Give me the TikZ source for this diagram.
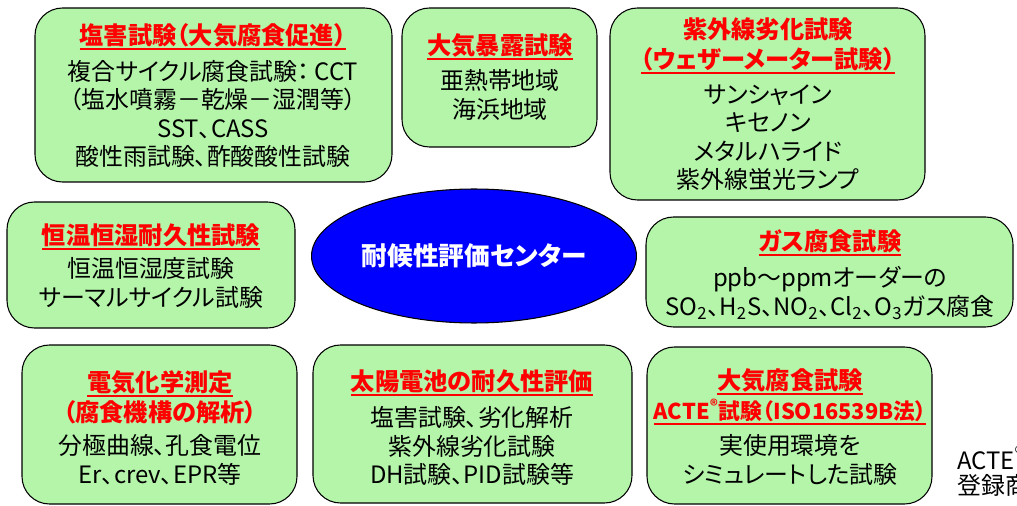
\documentclass[tikz,border=0pt]{standalone}
\usepackage{fontspec}
\setmainfont{Noto Sans CJK JP}[RawFeature=+palt]
\usetikzlibrary{fit,shapes.geometric}
\definecolor{boxgreen}{RGB}{180,245,170}
\definecolor{centerblue}{RGB}{0,0,255}
\newcommand{\redline}[1]{\setbox0\hbox{#1}\rlap{\color{red}\rule[-3.2pt]{\wd0}{1.1pt}}\box0}
\begin{document}
\begin{tikzpicture}[x=0.02cm,y=-0.02cm]
    \tikzstyle{tbox}=[draw=black, line width=0.6pt, fill=boxgreen, rounded corners=0.55cm, inner sep=0pt]
    \tikzstyle{ttitle}=[text=red, font=\fontsize{13.8}{17}\selectfont\bfseries, align=center, inner sep=0pt]
    \tikzstyle{tbody}=[text=black, font=\fontsize{13.6}{16.2}\selectfont, align=center, inner sep=0pt]
    \tikzstyle{tcenter}=[ellipse, draw=black, line width=0.6pt, fill=centerblue, text=white,
        minimum width=6.5cm, minimum height=2.68cm, inner sep=0pt, font=\fontsize{14.6}{17}\selectfont\bfseries]

    \useasboundingbox (0,0) rectangle (1017,506);
    \clip (0,0) rectangle (1017,506);

    \node[tbox, fit={(35,8) (392,182)}] (salt) {};
    \node[tbox, fit={(402,8) (597,147)}] (expo) {};
    \node[tbox, fit={(610,8) (925,200)}] (uv) {};
    \node[tbox, fit={(7,202) (295,328)}] (humid) {};
    \node[tbox, fit={(646,217) (1013,327)}] (gas) {};
    \node[tbox, fit={(22,345) (297,504)}] (echem) {};
    \node[tbox, fit={(313,345) (632,503)}] (solar) {};
    \node[tbox, fit={(647,347) (932,504)}] (acte) {};
    \node[tcenter] (center) at (474,256) {耐候性評価センター};

    \node[ttitle] (salt title) at (213,37) {\redline{塩害試験（大気腐食促進）}};
    \node[tbody] (salt body) at (213,114) {複合サイクル腐食試験： CCT\\（塩水噴霧－乾燥－湿潤等）\\SST、CASS\\酸性雨試験、酢酸酸性試験};

    \node[ttitle] (expo title) at (500,47) {\redline{大気暴露試験}};
    \node[tbody] (expo body) at (500,95) {亜熱帯地域\\海浜地域};

    \node[ttitle] (uv title) at (768,46) {紫外線劣化試験\\\redline{（ウェザーメーター試験）}};
    \node[tbody] (uv body) at (768,138) {サンシャイン\\キセノン\\メタルハライド\\紫外線蛍光ランプ};

    \node[ttitle] (humid title) at (151,237) {\redline{恒温恒湿耐久性試験}};
    \node[tbody] (humid body) at (151,283) {恒温恒湿度試験\\サーマルサイクル試験};

    \node[ttitle] (gas title) at (830,243) {\redline{ガス腐食試験}};
    \node[tbody] (gas body) at (830,293) {ppb～ppmオーダーの\\SO\textsubscript{2}、H\textsubscript{2}S、NO\textsubscript{2}、Cl\textsubscript{2}、O\textsubscript{3}ガス腐食};

    \node[ttitle] (echem title) at (160,397) {\redline{電気化学測定}\\（腐食機構の解析）};
    \node[tbody] (echem body) at (160,460) {分極曲線、孔食電位\\Er、crev、EPR等};

    \node[ttitle] (solar title) at (472,383) {\redline{太陽電池の耐久性評価}};
    \node[tbody] (solar body) at (472,446) {塩害試験、劣化解析\\紫外線劣化試験\\DH試験、PID試験等};

    \node[ttitle] (acte title) at (790,397) {\redline{大気腐食試験}\\\fontsize{12.4}{17}\selectfont\redline{ACTE\textsuperscript{®}試験（ISO16539B法）}};
    \node[tbody] (acte body) at (790,460) {実使用環境を\\シミュレートした試験};

    \node[tbody, anchor=west] (note a) at (957,458) {ACTE\textsuperscript{®}};
    \node[tbody, anchor=west] (note b) at (957,485) {登録商};
\end{tikzpicture}
\end{document}
